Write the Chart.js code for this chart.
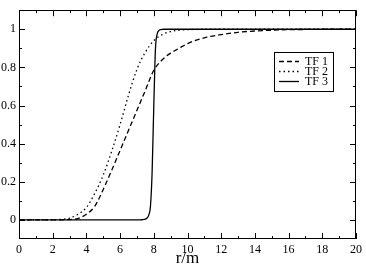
<!DOCTYPE html>
<html><head><meta charset="utf-8">
<script src="https://cdn.jsdelivr.net/npm/chart.js@4.4.1/dist/chart.umd.min.js"></script>
<style>html,body{margin:0;padding:0;background:#fff}#wrap{width:366px;height:267px}</style>
</head><body><div id="wrap"><canvas id="c" width="366" height="267"></canvas></div>
<script>
// Data
const rA  = [0,1,2,2.5,3,3.5,4,4.5,5,5.5,6,6.5,7,7.5,8,8.5,9,9.5,10,11,12,13,14,15,16,17,18,19,20];
const tf1 = [0,0,0,0.0005,0.002,0.007,0.03,0.072,0.16,0.26,0.365,0.47,0.575,0.68,0.785,0.84,0.875,0.90,0.925,0.955,0.972,0.984,0.991,0.995,0.998,0.999,1,1,1];
const tf2 = [0,0,0.001,0.003,0.009,0.03,0.065,0.14,0.235,0.36,0.5,0.655,0.79,0.88,0.94,0.972,0.988,0.995,0.998,1,1,1,1,1,1,1,1,1,1];
const r3  = [0,5,7,7.3,7.5,7.6,7.7,7.8,7.9,8,8.1,8.2,8.3,8.4,8.6,9,20];
const tf3 = [0,0,0,0.001,0.004,0.01,0.025,0.07,0.25,0.6,0.9,0.975,0.993,0.998,1,1,1];
const seriesLabels = ['TF 1','TF 2','TF 3'];
const xMajor = [0,2,4,6,8,10,12,14,16,18,20];
const xMinor = [1,3,5,7,9,11,13,15,17,19];
const yMajor = [0,0.2,0.4,0.6,0.8,1];
const yMinor = [0.1,0.3,0.5,0.7,0.9];
const xTitle = 'r/m';

const FONT = "'Liberation Serif', 'DejaVu Serif', serif";
const pts = (xs, ys) => xs.map((x, i) => ({x, y: ys[i]}));
const dashes = [[5,3],[1.5,3],[]];

const frame = {
  id: 'frame',
  afterDatasetsDraw(chart) {
    const {ctx, chartArea: a, scales: {x, y}} = chart;
    ctx.save();
    ctx.strokeStyle = '#000';
    ctx.lineWidth = 1;
    ctx.setLineDash([]);
    ctx.beginPath();
    const xt = (v, len) => { const p = Math.round(x.getPixelForValue(v)) + 0.5;
      ctx.moveTo(p, a.bottom); ctx.lineTo(p, a.bottom - len);
      ctx.moveTo(p, a.top); ctx.lineTo(p, a.top + len); };
    const yt = (v, len) => { const p = Math.round(y.getPixelForValue(v)) + 0.5;
      ctx.moveTo(a.left, p); ctx.lineTo(a.left + len, p);
      ctx.moveTo(a.right, p); ctx.lineTo(a.right - len, p); };
    xMajor.forEach(v => xt(v, 6)); xMinor.forEach(v => xt(v, 3));
    yMajor.forEach(v => yt(v, 6)); yMinor.forEach(v => yt(v, 3));
    ctx.stroke();
    ctx.strokeRect(Math.round(a.left) + 0.5, Math.round(a.top) + 0.5,
      Math.round(a.right - a.left) - 1, Math.round(a.bottom - a.top) - 1);
    // legend box
    const bx = 274.5, by = 52.5, bw = 59, bh = 39;
    ctx.fillStyle = '#fff';
    ctx.fillRect(bx, by, bw, bh);
    ctx.strokeRect(bx, by, bw, bh);
    ctx.font = '12px ' + FONT;
    ctx.textBaseline = 'middle';
    chart.data.datasets.forEach((ds, i) => {
      const yy = 61.5 + i * 10;
      ctx.beginPath();
      ctx.lineWidth = ds.borderWidth;
      ctx.setLineDash(ds.borderDash || []);
      ctx.moveTo(279, yy); ctx.lineTo(299, yy);
      ctx.stroke();
      ctx.setLineDash([]);
      ctx.fillStyle = '#000';
      ctx.fillText(ds.label, 305, yy + 0.5);
    });
    ctx.restore();
  }
};

new Chart(document.getElementById('c'), {
  type: 'line',
  data: {
    datasets: [
      {label: seriesLabels[0], data: pts(rA, tf1), borderDash: dashes[0]},
      {label: seriesLabels[1], data: pts(rA, tf2), borderDash: dashes[1]},
      {label: seriesLabels[2], data: pts(r3, tf3), borderDash: dashes[2]}
    ].map(d => Object.assign(d, {borderColor: '#000', borderWidth: 1.3, pointRadius: 0,
      fill: false, cubicInterpolationMode: 'monotone'}))
  },
  options: {
    responsive: false,
    animation: false,
    layout: {padding: {top: 1, right: 7, left: 0, bottom: 0}},
    plugins: {legend: {display: false}, tooltip: {enabled: false}},
    scales: {
      x: {
        type: 'linear', min: 0, max: 20,
        grid: {display: false, drawTicks: false},
        border: {display: false},
        afterBuildTicks: s => { s.ticks = xMajor.map(v => ({value: v})); },
        afterFit: s => { s.height = 28; },
        ticks: {font: {family: FONT, size: 12}, color: '#000', padding: 4, maxRotation: 0,
          callback: v => String(v)},
        title: {display: true, text: xTitle, font: {family: FONT, size: 17}, color: '#000',
          padding: {top: 0, bottom: -2}}
      },
      y: {
        type: 'linear', min: -0.1, max: 1.1,
        grid: {display: false, drawTicks: false},
        border: {display: false},
        afterBuildTicks: s => { s.ticks = yMajor.map(v => ({value: v})); },
        afterFit: s => { s.width = 19; },
        ticks: {font: {family: FONT, size: 12}, color: '#000', padding: 3,
          callback: v => String(Math.round(v * 10) / 10)}
      }
    }
  },
  plugins: [frame]
});
</script>
</body></html>
